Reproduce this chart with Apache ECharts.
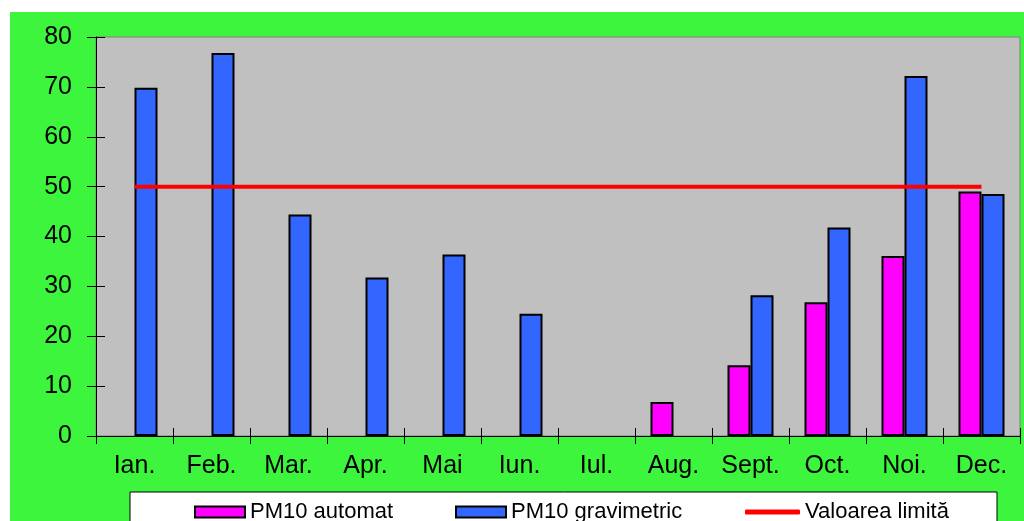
<!DOCTYPE html>
<html>
<head>
<meta charset="utf-8">
<script src="https://cdn.jsdelivr.net/npm/echarts@6/dist/echarts.min.js"></script>
<style>
  html, body { margin: 0; padding: 0; background: #fff; }
  #wrap { position: relative; width: 1024px; height: 521px; }
  #chart { position: absolute; left: 10px; top: 12px; width: 1014px; height: 509px; }
</style>
</head>
<body>
<div id="wrap"><div id="chart"></div></div>
<script>
const months = ['Ian.', 'Feb.', 'Mar.', 'Apr.', 'Mai', 'Iun.', 'Iul.', 'Aug.', 'Sept.', 'Oct.', 'Noi.', 'Dec.']
const pmAutomat = [null, null, null, null, null, null, null, 6.8, 14.2, 26.8, 36.1, 49.0]
const pmGravimetric = [69.8, 76.8, 44.4, 31.8, 36.4, 24.5, null, null, 28.2, 41.8, 72.2, 48.5]
const limitValue = [50, 50, 50, 50, 50, 50, 50, 50, 50, 50, 50, 50]
const yTicks = { min: 0, max: 80, interval: 10 }

const font = 'Liberation Sans, Arial, sans-serif'
const chart = echarts.init(document.getElementById('chart'))

const legendText = { fontSize: 22, color: '#000', fontFamily: font }

const option = {
  backgroundColor: '#3cf53c',
  animation: false,
  textStyle: { fontFamily: font },
  grid: {
    left: 86, right: 4, top: 25, bottom: 85,
    show: true,
    backgroundColor: '#c0c0c0',
    borderColor: '#808080',
    borderWidth: 1
  },
  graphic: [{
    type: 'rect',
    shape: { x: 120, y: 480, width: 867, height: 40 },
    style: { fill: '#fff', stroke: '#000', lineWidth: 1 },
    z: 0
  }],
  legend: [
    {
      data: [{ name: 'PM10 automat', icon: 'rect' }],
      left: 179, top: 484,
      itemWidth: 50, itemHeight: 11, itemGap: 5,
      textStyle: legendText
    },
    {
      data: [{ name: 'PM10 gravimetric', icon: 'rect' }],
      left: 440, top: 484,
      itemWidth: 50, itemHeight: 11, itemGap: 5,
      textStyle: legendText
    },
    {
      data: [{ name: 'Valoarea limită', icon: 'roundRect' }],
      left: 730, top: 484,
      itemWidth: 55, itemHeight: 5, itemGap: 2,
      textStyle: legendText
    }
  ],
  xAxis: [
    {
      type: 'category',
      data: months,
      axisLine: { lineStyle: { color: '#000', width: 1 } },
      axisTick: { show: true, length: 8, lineStyle: { color: '#000' } },
      axisLabel: { fontSize: 25, color: '#000', margin: 18, fontFamily: font }
    },
    {
      // inner half of the crossing ticks
      type: 'category',
      data: months,
      position: 'bottom',
      axisLine: { show: false },
      axisTick: { show: true, inside: true, length: 8, lineStyle: { color: '#000' } },
      axisLabel: { show: false }
    }
  ],
  yAxis: [
    {
      type: 'value',
      min: yTicks.min, max: yTicks.max, interval: yTicks.interval,
      axisLine: { show: true, lineStyle: { color: '#000', width: 1 } },
      axisTick: { show: true, length: 9, lineStyle: { color: '#000' } },
      axisLabel: { fontSize: 25, color: '#000', margin: 24, fontFamily: font },
      splitLine: { show: false }
    },
    {
      type: 'value',
      position: 'left',
      min: yTicks.min, max: yTicks.max, interval: yTicks.interval,
      axisLine: { show: false },
      axisTick: { show: true, inside: true, length: 9, lineStyle: { color: '#000' } },
      axisLabel: { show: false },
      splitLine: { show: false }
    }
  ],
  series: [
    {
      name: 'PM10 automat',
      type: 'bar',
      data: pmAutomat,
      barWidth: 23,
      barGap: '0%',
      itemStyle: { color: '#ff00ff', borderColor: '#000', borderWidth: 2 }
    },
    {
      name: 'PM10 gravimetric',
      type: 'bar',
      data: pmGravimetric,
      barWidth: 23,
      barGap: '0%',
      itemStyle: { color: '#3366ff', borderColor: '#000', borderWidth: 2 }
    },
    {
      name: 'Valoarea limită',
      type: 'line',
      data: limitValue,
      symbol: 'none',
      lineStyle: { color: '#ff0000', width: 4 },
      itemStyle: { color: '#ff0000' },
      z: 5
    }
  ]
}

chart.setOption(option)
</script>
</body>
</html>
